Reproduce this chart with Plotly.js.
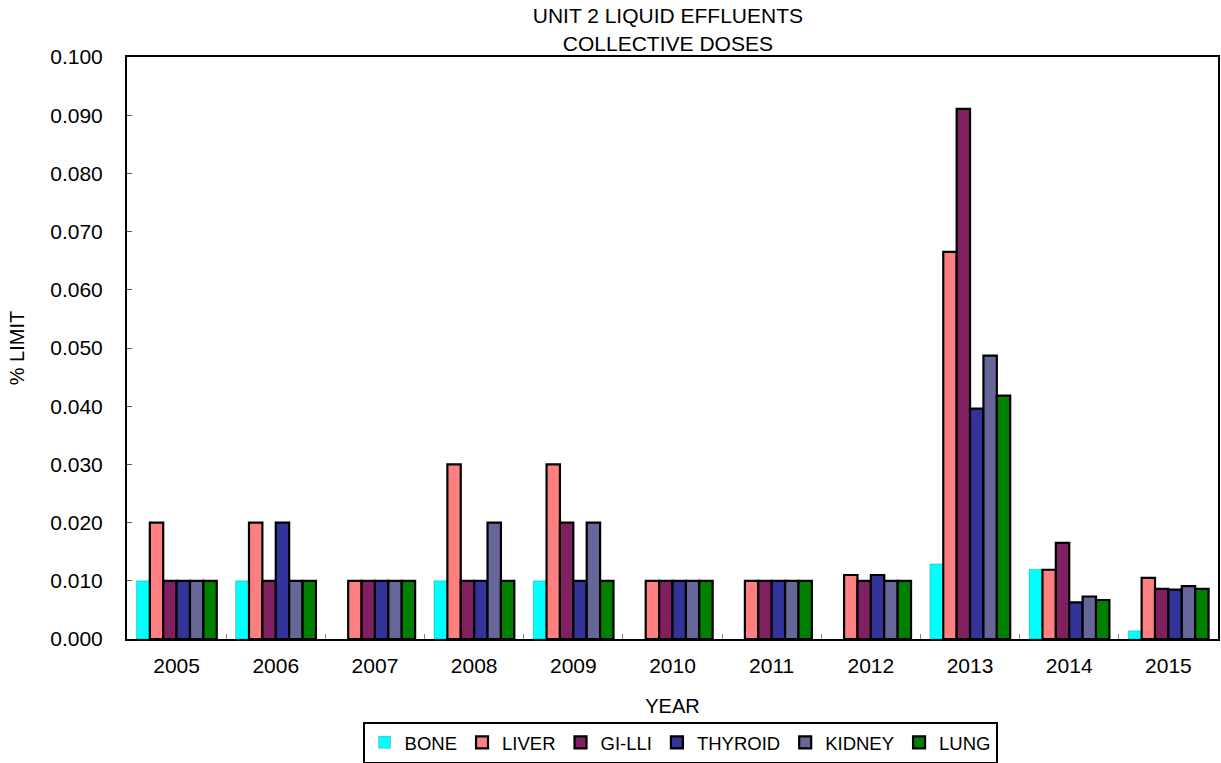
<!DOCTYPE html>
<html>
<head>
<meta charset="utf-8">
<script src="https://cdn.plot.ly/plotly-3.0.1.min.js"></script>
<style>html,body{margin:0;padding:0;background:#fff;}#chart{width:1221px;height:763px;}</style>
</head>
<body>
<div id="chart"></div>
<script>
var years = ['2005','2006','2007','2008','2009','2010','2011','2012','2013','2014','2015'];
var bone    = [0.010, 0.010, null,  0.010, 0.010, null,  null,  null,  0.0129, 0.0120, 0.0014];
var liver   = [0.020, 0.020, 0.010, 0.030, 0.030, 0.010, 0.010, 0.011, 0.0665, 0.0119, 0.0105];
var gilli   = [0.010, 0.010, 0.010, 0.010, 0.020, 0.010, 0.010, 0.010, 0.0911, 0.0165, 0.0086];
var thyroid = [0.010, 0.020, 0.010, 0.010, 0.010, 0.010, 0.010, 0.011, 0.0396, 0.0063, 0.0085];
var kidney  = [0.010, 0.010, 0.010, 0.020, 0.020, 0.010, 0.010, 0.010, 0.0487, 0.0073, 0.0091];
var lung    = [0.010, 0.010, 0.010, 0.010, 0.010, 0.010, 0.010, 0.010, 0.0418, 0.0067, 0.0086];

var seriesNames = ['BONE','LIVER','GI-LLI','THYROID','KIDNEY','LUNG'];
var seriesData = [bone, liver, gilli, thyroid, kidney, lung];
var seriesColors = ['#00FFFF','#FF8080','#802060','#333399','#666699','#008000'];

var traces = seriesNames.map(function(name, i){
  return {
    type: 'bar',
    name: name,
    x: years,
    y: seriesData[i],
    marker: {
      color: seriesColors[i],
      line: i === 0 ? {color: 'rgba(0,0,0,0.25)', width: 0.8} : {color: '#000', width: 2.2}
    }
  };
});

var fam = 'Liberation Sans, Arial, sans-serif';

var layout = {
  width: 1221, height: 763,
  paper_bgcolor: '#fff', plot_bgcolor: '#fff',
  margin: {l: 127, r: 3, t: 57, b: 124, autoexpand: false},
  barmode: 'group',
  bargap: 0.19,
  bargroupgap: 0,
  font: {family: fam, color: '#000', size: 19},
  title: {
    text: 'UNIT 2 LIQUID EFFLUENTS<br>COLLECTIVE DOSES',
    font: {family: fam, size: 21, color: '#000'},
    x: 0.547, xanchor: 'center', xref: 'container',
    y: 0.9695, yanchor: 'middle', yref: 'container'
  },
  xaxis: {
    type: 'category',
    automargin: false,
    showline: true, linecolor: '#000', linewidth: 2, mirror: true,
    ticks: 'inside', tickson: 'boundaries', ticklen: 5, tickcolor: '#888', tickwidth: 1,
    ticklabelstandoff: 7,
    tickfont: {family: fam, size: 21, color: '#000'},
    title: {text: 'YEAR', font: {family: fam, size: 20, color: '#000'}, standoff: 23},
    showgrid: false, zeroline: false
  },
  yaxis: {
    automargin: false,
    range: [0, 0.1], dtick: 0.01, tickformat: '.3f',
    showline: true, linecolor: '#000', linewidth: 2, mirror: true,
    ticks: 'inside', ticklen: 5, tickcolor: '#555', tickwidth: 1,
    ticklabelstandoff: 18,
    tickfont: {family: fam, size: 21, color: '#000'},
    title: {text: '% LIMIT', font: {family: fam, size: 20, color: '#000'}, standoff: 20},
    showgrid: false, zeroline: false
  },
  showlegend: true,
  legend: {
    orientation: 'h',
    x: 0.557, xanchor: 'center', xref: 'container',
    y: 0.054, yanchor: 'top', yref: 'container',
    bordercolor: '#000', borderwidth: 2,
    font: {family: fam, size: 18.5, color: '#000'},
    itemwidth: 30,
    traceorder: 'normal'
  }
};

Plotly.newPlot('chart', traces, layout, {displayModeBar: false, staticPlot: true});
</script>
</body>
</html>
